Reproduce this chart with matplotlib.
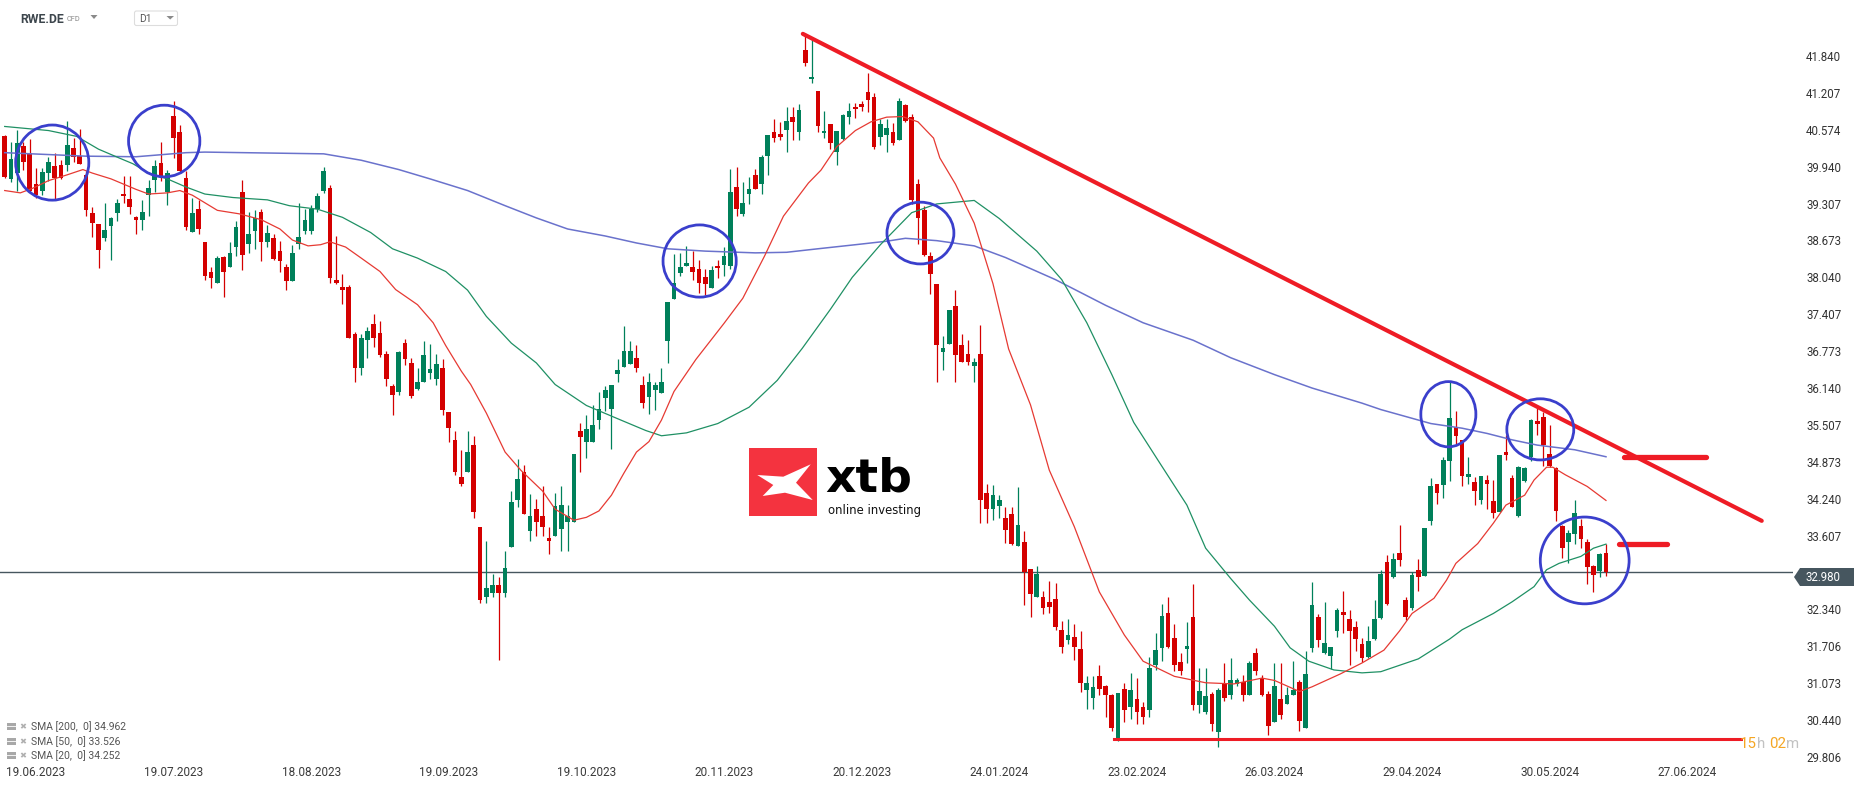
import numpy as np
import matplotlib.pyplot as plt
from matplotlib.patches import Ellipse, Polygon, Rectangle, FancyBboxPatch

plt.rcParams['font.family'] = ['Roboto', 'DejaVu Sans']

# daily candles, RWE.DE, 12.06.2023 .. 13.06.2024 (index 0 .. 256)
opens = [
    40.46, 39.73, 39.83, 40.30, 40.18, 39.64, 39.53, 39.83, 39.95, 39.97,
    39.97, 40.26, 40.13, 39.80, 39.14, 38.96, 38.72, 38.92, 39.14, 39.47,
    39.38, 39.08, 39.03, 39.46, 39.71, 40.00, 39.51, 40.81, 40.54, 39.74,
    38.82, 39.21, 38.65, 38.13, 37.95, 38.39, 38.21, 38.56, 39.51, 38.62,
    38.84, 39.17, 38.64, 38.72, 38.49, 38.21, 37.97, 38.62, 38.83, 38.83,
    39.21, 39.53, 39.57, 38.00, 37.87, 37.87, 37.06, 36.48, 36.97, 37.24,
    37.08, 36.73, 36.18, 36.08, 36.91, 36.57, 36.12, 36.25, 36.40, 36.29,
    36.49, 35.72, 35.24, 34.62, 34.70, 35.16, 33.76, 32.55, 32.62, 32.75,
    32.62, 33.41, 34.21, 34.70, 33.69, 34.06, 33.94, 33.57, 33.60, 33.72,
    33.84, 33.84, 35.40, 35.21, 35.22, 35.59, 35.96, 35.78, 36.38, 36.50,
    36.56, 36.66, 36.19, 35.99, 36.11, 36.05, 36.94, 37.66, 38.11, 38.24,
    38.21, 38.18, 38.04, 37.86, 38.24, 38.26, 38.24, 39.59, 39.12, 39.47,
    39.79, 39.65, 40.12, 40.53, 40.50, 40.57, 40.80, 40.53, 41.94, 41.45,
    41.24, 40.51, 40.67, 40.20, 40.42, 40.79, 40.97, 41.02, 41.23, 41.14,
    40.45, 40.48, 40.53, 40.40, 40.99, 40.79, 39.64, 39.20, 38.40, 37.93,
    36.76, 36.90, 37.54, 36.87, 36.72, 36.52, 36.72, 34.34, 34.06, 34.12,
    33.91, 33.98, 33.43, 33.50, 33.03, 32.56, 32.56, 32.46, 32.51, 31.99,
    31.81, 31.86, 31.66, 30.95, 30.82, 31.19, 31.02, 30.87, 30.11, 30.97,
    30.67, 30.80, 30.67, 30.62, 31.38, 31.68, 32.27, 31.84, 31.44, 31.66,
    32.21, 30.69, 30.57, 30.89, 30.23, 31.08, 30.87, 31.06, 31.10, 30.87,
    31.59, 31.16, 30.89, 30.41, 30.80, 30.71, 30.87, 31.10, 30.30, 31.68,
    32.21, 31.59, 31.54, 31.96, 32.29, 32.18, 32.03, 31.75, 31.53, 31.83,
    32.20, 33.15, 32.90, 33.30, 32.50, 32.36, 33.02, 32.91, 33.86, 34.49,
    34.48, 34.89, 35.47, 35.25, 34.62, 34.53, 34.21, 34.56, 34.20, 34.02,
    35.05, 34.59, 33.94, 34.55, 34.96, 35.57, 35.64, 35.01, 34.76, 33.77,
    33.49, 33.63, 33.77, 33.50, 33.09, 32.99, 33.30,
]
highs = [
    40.48, 40.37, 40.57, 40.37, 40.42, 39.92, 39.92, 40.11, 40.17, 40.06,
    40.72, 40.43, 40.59, 39.86, 39.24, 38.96, 39.32, 39.07, 39.38, 39.78,
    39.78, 39.10, 39.36, 39.71, 40.05, 40.37, 39.89, 41.07, 40.65, 39.86,
    39.41, 39.36, 38.65, 38.21, 38.41, 38.41, 38.65, 39.00, 39.71, 39.16,
    39.19, 39.22, 38.94, 38.79, 38.67, 38.27, 38.60, 39.32, 39.21, 39.29,
    39.49, 39.94, 39.62, 38.75, 38.09, 37.90, 37.10, 37.06, 37.19, 37.41,
    37.29, 36.78, 36.21, 36.78, 36.98, 36.65, 36.48, 36.94, 36.89, 36.73,
    36.63, 35.72, 35.40, 35.08, 35.40, 35.32, 33.76, 33.51, 32.95, 32.90,
    33.35, 34.37, 34.92, 34.82, 34.32, 34.24, 34.46, 33.75, 34.33, 34.46,
    34.13, 35.01, 35.54, 35.68, 35.84, 36.08, 36.17, 36.20, 36.63, 37.20,
    36.94, 36.88, 36.34, 36.40, 36.25, 36.48, 37.61, 38.44, 38.46, 38.58,
    38.50, 38.34, 38.18, 38.23, 38.34, 38.56, 39.90, 39.93, 39.67, 39.77,
    39.90, 40.14, 40.48, 40.75, 40.71, 40.96, 40.96, 41.02, 42.24, 42.15,
    41.24, 40.89, 40.68, 40.55, 40.85, 41.04, 41.04, 41.06, 41.55, 41.20,
    40.75, 40.75, 40.69, 41.12, 41.02, 40.85, 39.73, 39.27, 38.47, 37.93,
    37.03, 37.48, 37.82, 37.07, 36.96, 36.66, 37.22, 34.49, 34.47, 34.30,
    34.10, 34.10, 34.44, 33.69, 33.03, 33.09, 32.65, 32.83, 32.79, 32.14,
    32.18, 32.09, 31.96, 31.19, 31.19, 31.39, 31.04, 30.89, 30.90, 31.08,
    31.24, 31.16, 30.75, 31.53, 31.94, 32.44, 32.56, 32.09, 31.59, 32.12,
    32.78, 31.34, 31.34, 30.92, 30.99, 31.42, 31.51, 31.16, 31.22, 31.45,
    31.68, 31.22, 30.93, 31.42, 31.42, 31.01, 31.45, 31.12, 31.62, 32.81,
    32.26, 32.46, 31.69, 32.36, 32.66, 32.33, 32.14, 31.84, 32.06, 32.50,
    33.02, 33.28, 33.31, 33.78, 32.56, 32.98, 33.20, 33.74, 34.59, 34.49,
    34.95, 36.25, 35.75, 35.25, 34.95, 34.62, 34.63, 34.65, 34.56, 34.99,
    35.33, 34.65, 34.80, 34.78, 35.60, 35.79, 35.73, 35.51, 34.78, 33.79,
    33.71, 34.22, 33.89, 33.54, 33.10, 33.31, 33.46,
]
lows = [
    39.74, 39.67, 39.53, 39.89, 39.48, 39.41, 39.45, 39.70, 39.38, 39.72,
    39.86, 40.02, 39.99, 39.10, 38.73, 38.20, 38.67, 38.33, 39.00, 39.32,
    39.13, 38.79, 38.86, 39.10, 39.51, 39.70, 39.29, 40.09, 39.83, 38.86,
    38.81, 38.78, 38.00, 37.86, 37.95, 37.71, 38.21, 38.40, 38.16, 38.46,
    38.53, 38.32, 38.56, 38.33, 38.13, 37.83, 37.97, 38.53, 38.79, 38.79,
    39.16, 39.48, 37.95, 37.92, 37.59, 36.99, 36.24, 36.37, 36.65, 36.84,
    36.67, 36.18, 35.68, 36.02, 36.54, 35.97, 36.10, 36.25, 36.29, 36.19,
    35.67, 35.22, 34.65, 34.45, 34.70, 33.90, 32.45, 32.45, 32.55, 31.47,
    32.55, 33.41, 34.09, 33.97, 33.51, 33.60, 33.60, 33.29, 33.60, 33.35,
    33.35, 33.84, 34.70, 34.93, 35.22, 35.44, 35.74, 35.10, 36.24, 36.50,
    36.56, 36.42, 35.79, 35.69, 35.76, 36.05, 36.57, 37.66, 38.07, 38.23,
    38.00, 37.77, 37.74, 37.85, 38.03, 38.06, 38.18, 39.10, 39.10, 39.30,
    39.56, 39.47, 39.79, 40.36, 40.40, 40.19, 40.40, 40.40, 41.66, 41.37,
    40.53, 40.43, 40.24, 39.96, 40.40, 40.67, 40.77, 40.89, 40.88, 40.24,
    40.32, 40.20, 40.31, 40.40, 40.71, 39.30, 38.61, 38.41, 37.75, 36.25,
    36.45, 36.89, 36.25, 36.58, 36.53, 36.25, 33.82, 33.82, 33.87, 33.91,
    33.48, 33.45, 33.43, 32.41, 32.21, 32.56, 32.26, 32.27, 31.99, 31.59,
    31.75, 31.47, 30.92, 30.63, 30.63, 30.87, 30.50, 30.26, 30.08, 30.41,
    30.45, 30.37, 30.37, 30.49, 31.30, 31.45, 31.68, 31.29, 31.22, 31.42,
    30.62, 30.56, 30.54, 30.26, 29.98, 30.77, 30.80, 31.03, 30.77, 30.87,
    31.22, 30.86, 30.19, 30.40, 30.45, 30.71, 30.87, 30.25, 30.30, 31.60,
    31.69, 31.57, 31.32, 31.86, 31.94, 31.39, 31.62, 31.44, 31.51, 31.81,
    32.18, 32.42, 32.88, 33.09, 32.16, 32.33, 32.66, 32.91, 33.79, 34.15,
    34.26, 34.55, 35.16, 34.46, 34.49, 34.13, 34.15, 34.06, 33.90, 34.02,
    34.90, 34.10, 33.93, 34.53, 34.88, 35.33, 34.80, 34.78, 33.85, 33.22,
    33.14, 33.47, 33.39, 32.78, 32.63, 32.89, 32.91,
]
closes = [
    39.76, 40.08, 40.35, 40.02, 39.53, 39.46, 39.84, 40.02, 39.75, 39.75,
    40.32, 40.11, 39.99, 39.19, 38.97, 38.51, 38.86, 39.05, 39.32, 39.43,
    39.24, 39.03, 39.16, 39.57, 39.95, 39.78, 39.83, 40.43, 39.86, 38.91,
    39.14, 38.87, 38.07, 38.02, 38.38, 38.14, 38.46, 38.91, 38.43, 38.78,
    39.05, 38.65, 38.80, 38.35, 38.32, 37.97, 38.46, 38.73, 39.02, 39.21,
    39.43, 39.87, 38.03, 37.95, 37.83, 36.99, 36.48, 37.00, 37.12, 36.99,
    36.70, 36.30, 36.02, 36.75, 36.63, 36.00, 36.24, 36.71, 36.46, 36.56,
    35.76, 35.46, 34.70, 34.49, 35.05, 34.02, 32.50, 32.70, 32.75, 32.62,
    33.05, 34.19, 34.58, 33.97, 33.95, 33.84, 33.75, 33.52, 34.12, 34.13,
    33.95, 35.01, 35.30, 35.44, 35.50, 35.78, 36.11, 36.20, 36.45, 36.77,
    36.77, 36.48, 35.89, 36.25, 36.20, 36.25, 37.61, 37.95, 38.22, 38.29,
    38.14, 37.95, 37.92, 38.17, 38.20, 38.41, 39.50, 39.21, 39.32, 39.55,
    39.56, 40.10, 40.48, 40.43, 40.45, 40.73, 40.71, 40.91, 41.72, 41.48,
    40.63, 40.55, 40.34, 40.55, 40.83, 40.89, 40.93, 40.96, 41.08, 40.28,
    40.67, 40.61, 40.34, 41.06, 40.73, 39.36, 39.05, 38.42, 38.09, 36.88,
    36.83, 37.48, 36.70, 36.58, 36.59, 36.58, 34.22, 34.06, 34.30, 34.22,
    33.70, 33.46, 33.78, 32.98, 32.61, 32.94, 32.36, 32.38, 32.03, 31.69,
    31.90, 31.69, 31.07, 31.08, 31.01, 30.97, 30.87, 30.30, 30.90, 30.62,
    30.95, 30.57, 30.49, 31.34, 31.64, 32.23, 31.69, 31.39, 31.29, 31.71,
    30.69, 30.93, 30.86, 30.37, 30.95, 30.82, 31.12, 31.12, 30.87, 31.42,
    31.29, 30.87, 30.34, 31.02, 30.52, 30.87, 30.95, 30.43, 31.23, 32.41,
    31.81, 31.77, 31.69, 32.33, 32.24, 31.97, 31.83, 31.51, 31.79, 32.18,
    32.94, 32.44, 33.20, 33.18, 32.21, 32.93, 32.90, 33.74, 34.45, 34.33,
    34.90, 35.63, 35.31, 34.63, 34.66, 34.38, 34.63, 34.50, 34.00, 34.99,
    34.99, 34.10, 34.79, 34.76, 35.59, 35.52, 35.16, 34.80, 34.03, 33.39,
    33.65, 33.99, 33.54, 33.06, 32.93, 33.29, 32.98,
]

# moving averages (bar index, value)
sma200_x = [0, 13, 21, 29, 32, 51, 57, 63, 68, 74, 80, 85, 90, 96, 101, 106, 112, 120, 125,
            130, 136, 141, 144, 149, 155, 160, 168, 176, 182, 190, 196, 203, 209, 217,
            220, 223, 228, 233, 237, 241, 245, 251, 256]
sma200_y = [40.18, 40.12, 40.11, 40.18, 40.19, 40.16, 40.05, 39.89, 39.73, 39.53, 39.27, 39.06,
            38.87, 38.75, 38.63, 38.53, 38.49, 38.46, 38.47, 38.53, 38.60, 38.66, 38.71,
            38.67, 38.58, 38.38, 38.00, 37.56, 37.26, 36.96, 36.66, 36.37, 36.14, 35.88,
            35.77, 35.68, 35.53, 35.45, 35.36, 35.25, 35.16, 35.08, 34.96]
sma50_x = [0, 7, 11.5, 15, 18.5, 20.5, 23, 26, 29, 32, 36.5, 42, 45.5, 50, 54, 58.5, 62, 66,
           70.5, 74, 77, 81, 85, 88, 93, 98.5, 102.5, 105, 109, 114, 119, 123.5, 127.5, 132,
           135.5, 140, 145, 149, 155, 159, 165, 169, 173, 177, 180.5, 184.5, 189, 192, 196,
           199, 203, 205.5, 208.5, 212.5, 217, 220, 223, 226, 231, 233, 238, 241, 244.5,
           246.5, 248.5, 252, 254, 256]
sma50_y = [40.63, 40.56, 40.46, 40.24, 40.08, 39.99, 39.83, 39.73, 39.59, 39.47, 39.41, 39.37,
           39.27, 39.21, 39.07, 38.81, 38.53, 38.37, 38.14, 37.82, 37.37, 36.91, 36.57, 36.20,
           35.84, 35.59, 35.41, 35.32, 35.37, 35.53, 35.81, 36.27, 36.82, 37.49, 38.04,
           38.60, 39.15, 39.30, 39.36, 39.05, 38.49, 38.00, 37.26, 36.37, 35.55, 34.88,
           34.13, 33.39, 32.87, 32.50, 32.05, 31.68, 31.45, 31.30, 31.25, 31.27, 31.38,
           31.49, 31.83, 31.99, 32.27, 32.47, 32.73, 33.02, 33.13, 33.25, 33.39, 33.46]
sma20_x = [0, 2.5, 4.5, 7, 10, 12.5, 14, 17, 19, 21, 23, 26, 28, 30, 32, 34, 37.5, 41, 44,
           46, 48.5, 50.5, 52, 54.5, 57, 60, 62.5, 66, 68.5, 70.5, 73, 74.5, 77, 80, 82.5,
           86, 88, 91, 93, 95, 97, 99, 101, 103, 105, 107, 110.5, 115, 118, 121.5, 124.5,
           128.5, 130.5, 133, 136, 138.5, 141, 143.5, 146, 148.5, 149.5, 152, 155, 158, 160.5,
           164, 167, 171, 175, 179, 182, 187, 192, 196.5, 201, 203, 207, 209, 213.5, 217,
           220.5, 223, 225, 228.5, 230.5, 232, 235.5, 238, 240, 243, 244.5, 246.5, 247.5,
           249.5, 253, 256]
sma20_y = [39.53, 39.49, 39.57, 39.70, 39.80, 39.89, 39.83, 39.73, 39.64, 39.55, 39.47, 39.49,
           39.53, 39.45, 39.32, 39.19, 39.13, 39.03, 38.87, 38.68, 38.58, 38.60, 38.65, 38.56,
           38.37, 38.14, 37.83, 37.57, 37.26, 36.87, 36.43, 36.20, 35.71, 35.04, 34.73,
           34.37, 34.06, 33.87, 33.92, 34.03, 34.30, 34.68, 35.04, 35.22, 35.59, 36.08,
           36.63, 37.25, 37.68, 38.41, 39.09, 39.66, 39.88, 40.28, 40.56, 40.71, 40.79,
           40.80, 40.71, 40.43, 40.09, 39.64, 38.97, 37.93, 36.81, 35.85, 34.73, 33.76,
           32.64, 31.90, 31.45, 31.19, 31.08, 31.06, 31.16, 31.12, 30.93, 31.01, 31.23,
           31.42, 31.64, 31.97, 32.27, 32.53, 32.84, 33.13, 33.47, 33.82, 34.13, 34.30,
           34.56, 34.78, 34.78, 34.65, 34.45, 34.21]

date_idx = [5, 27, 49, 71, 93, 115, 137, 159, 181, 203, 225, 247, 269]
date_labels = ['19.06.2023', '19.07.2023', '18.08.2023', '19.09.2023', '19.10.2023',
               '20.11.2023', '20.12.2023', '24.01.2024', '23.02.2024', '26.03.2024',
               '29.04.2024', '30.05.2024', '27.06.2024']
price_ticks = [41.840, 41.207, 40.574, 39.940, 39.307, 38.673, 38.040, 37.407, 36.773,
               36.140, 35.507, 34.873, 34.240, 33.607, 32.340, 31.706, 31.073, 30.440, 29.806]
last_price = 32.98

# drawings on the chart
trend_x, trend_y = [127.6, 280.9], [42.22, 33.86]
support_x, support_y = [177.3, 277.6], 30.11
marks = [(258.9, 272.0, 34.96), (258.1, 265.8, 33.46)]
circles = [(7.6, 40.01, 11.7, 1.29), (25.5, 40.38, 11.4, 1.23), (111.1, 38.32, 11.7, 1.24),
           (146.4, 38.80, 10.7, 1.06), (230.8, 35.69, 8.8, 1.12), (245.5, 35.43, 10.7, 1.05),
           (252.6, 33.18, 14.2, 1.49)]

GREEN = '#00805a'
RED = '#d40000'

fig = plt.figure(figsize=(18.66, 7.87), dpi=100)
W, H = 1866, 787
ax = fig.add_axes([0, 27 / H, 1793 / W, 760 / H])
ax.set_xlim(-0.751, 285.9)
ax.set_ylim(29.754, 42.801)
for s in ax.spines.values():
    s.set_visible(False)

o = np.array(opens)
c = np.array(closes)
idx = np.arange(len(o))
cols = np.where(c >= o, GREEN, RED)
ax.vlines(idx, lows, highs, colors=cols, linewidth=0.9, zorder=3)
ax.bar(idx, np.maximum(np.abs(c - o), 0.03), bottom=np.minimum(o, c), width=0.75,
       color=cols, linewidth=0, zorder=3)

ax.plot(sma200_x, sma200_y, color='#6a72cc', lw=1.1, zorder=4)
ax.plot(sma50_x, sma50_y, color='#1f9064', lw=0.9, zorder=4)
ax.plot(sma20_x, sma20_y, color='#e63a33', lw=0.9, zorder=4)

ax.axhline(last_price, color='#46565f', lw=1.0, zorder=2)

ax.plot(trend_x, trend_y, color='#ee1c25', lw=3.0, solid_capstyle='round', zorder=6)
ax.plot(support_x, [support_y, support_y], color='#ee1c25', lw=2.2, zorder=6)
for x0, x1, y in marks:
    ax.plot([x0, x1], [y, y], color='#ee1c25', lw=3.8, solid_capstyle='round', zorder=6)
for cx, cy, w, h in circles:
    ax.add_patch(Ellipse((cx, cy), w, h, fill=False, edgecolor='#3a3fcc', lw=2.0, zorder=7))

ax.yaxis.tick_right()
ax.set_yticks(price_ticks)
ax.set_yticklabels([f'{v:.3f}' for v in price_ticks])
ax.tick_params(axis='y', length=0, pad=9.4, labelsize=8.3, labelcolor='#333333')
ax.set_xticks(date_idx)
ax.set_xticklabels(date_labels)
ax.tick_params(axis='x', length=0, pad=4.0, labelsize=8.5, labelcolor='#3a3a3a')
for lab in ax.get_yticklabels():
    lab.set_horizontalalignment('left')

# overlay in pixel coordinates for the platform decorations
ov = fig.add_axes([0, 0, 1, 1])
ov.set_xlim(0, W)
ov.set_ylim(H, 0)
ov.axis('off')
ov.patch.set_alpha(0)
ov.set_zorder(5)

# price label
ov.add_patch(Polygon([(1794, 577), (1800, 568), (1854, 568), (1854, 586), (1800, 586)],
                     closed=True, color='#46565f', lw=0))
ov.text(1806, 577.5, f'{last_price:.3f}', color='white', fontsize=8.3, va='center', ha='left')

# header
ov.text(20, 19.5, 'RWE.DE', fontsize=8.8, fontweight='bold', color='#3d464d', va='center')
ov.text(67, 19.5, 'CFD', fontsize=5.3, color='#8a8a8a', va='center')
ov.add_patch(Polygon([(90.5, 15), (97.5, 15), (94, 19)], color='#8a8a8a', lw=0))
ov.add_patch(FancyBboxPatch((134.5, 11), 43, 14.5, boxstyle='round,pad=0,rounding_size=2',
                            fill=False, edgecolor='#dddddd', lw=0.8))
ov.text(139, 19.5, 'D1', fontsize=7.4, color='#555555', va='center')
ov.add_patch(Polygon([(166.5, 16), (174, 16), (170.2, 19.5)], color='#8a8a8a', lw=0))

# SMA legend
legend_rows = ['SMA [200,  0] 34.962', 'SMA [50,  0] 33.526', 'SMA [20,  0] 34.252']
for k, txt in enumerate(legend_rows):
    y = 727 + 14.5 * k
    ov.add_patch(Rectangle((7, y - 4), 9, 7, color='#a8a8a8', lw=0))
    ov.plot([7, 16], [y - 1, y - 1], color='white', lw=0.6)
    ov.text(19.5, y, '\u2716', family='DejaVu Sans', fontsize=6, color='#b0b0b0', va='center')
    ov.text(31, y, txt, fontsize=7.5, color='#555555', va='center')

# countdown
for xx, t, col in [(1740, '15', '#f5a623'), (1756.9, 'h', '#c2c2c2'),
                   (1768.9, '02', '#f5a623'), (1785.8, 'm', '#c2c2c2')]:
    ov.text(xx, 748.3, t, fontsize=10.8, color=col, va='baseline', ha='left')

# xtb logo
ov.add_patch(Rectangle((749, 448), 68, 68, color='#f4333f', lw=0))
ov.add_patch(Polygon([(757.3, 475), (783.3, 476.7), (810.7, 464.3), (796, 482.7),
                      (812.7, 500), (785, 492.7), (762.7, 496), (773.3, 485)],
                     closed=True, color='white', lw=0))
ov.text(825, 491, 'xtb', family='DejaVu Sans', fontweight='bold', fontsize=34,
        color='black', va='baseline', ha='left')
ov.text(828, 514, 'online investing', family='DejaVu Sans', fontsize=8.4,
        color='#111111', va='baseline', ha='left')

fig.savefig('out.png', dpi=100, facecolor='white')
